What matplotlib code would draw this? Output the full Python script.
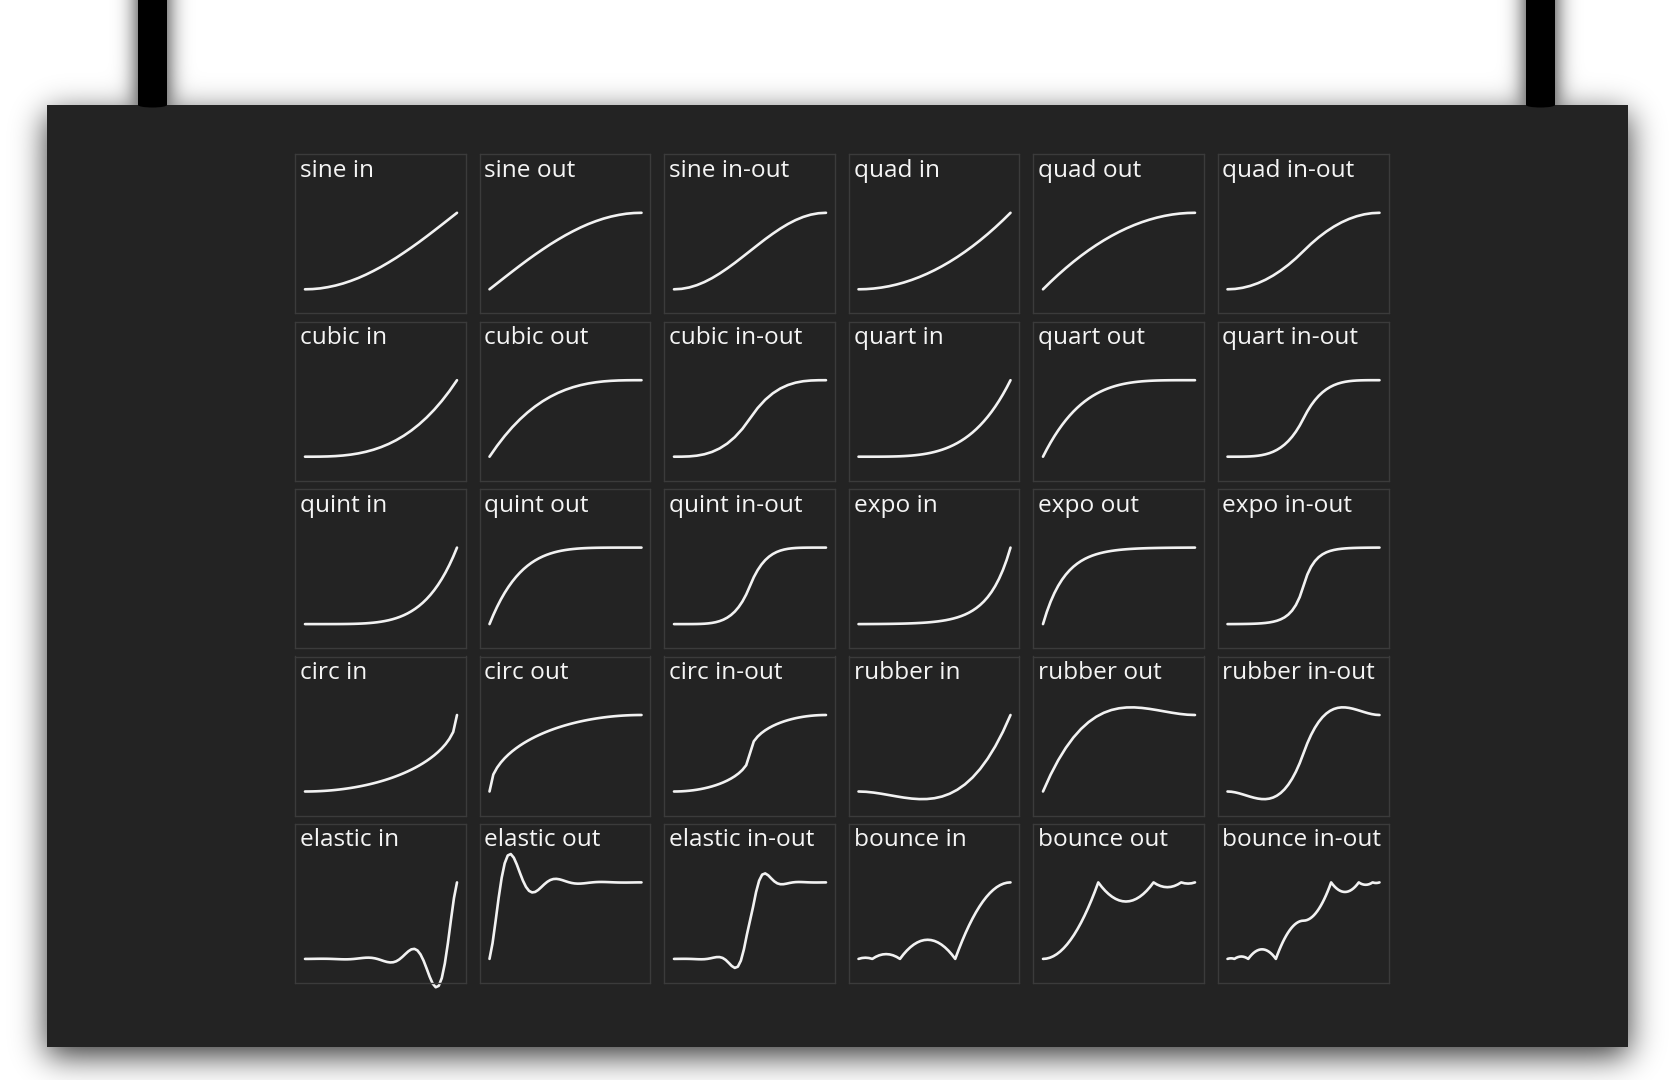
import math
import numpy as np
import matplotlib
matplotlib.use("Agg")
import matplotlib.pyplot as plt
from matplotlib.patches import Rectangle, Ellipse

plt.rcParams['font.family'] = ['Open Sans', 'DejaVu Sans']

# easing curves, t runs evenly from 0 to 1
sine_in = [0, 0.003, 0.012, 0.028, 0.049, 0.076, 0.109, 0.147, 0.191, 0.240, 0.293, 0.351, 0.412, 0.478, 0.546, 0.617, 0.691, 0.767, 0.844, 0.922, 1]
sine_out = [0, 0.078, 0.156, 0.233, 0.309, 0.383, 0.454, 0.522, 0.588, 0.649, 0.707, 0.760, 0.809, 0.853, 0.891, 0.924, 0.951, 0.972, 0.988, 0.997, 1]
sine_inout = [0, 0.006, 0.024, 0.054, 0.095, 0.146, 0.206, 0.273, 0.345, 0.422, 0.5, 0.578, 0.655, 0.727, 0.794, 0.854, 0.905, 0.946, 0.976, 0.994, 1]
quad_in = [0, 0.0025, 0.01, 0.0225, 0.04, 0.0625, 0.09, 0.1225, 0.16, 0.2025, 0.25, 0.3025, 0.36, 0.4225, 0.49, 0.5625, 0.64, 0.7225, 0.81, 0.9025, 1]
quad_out = [0, 0.0975, 0.19, 0.2775, 0.36, 0.4375, 0.51, 0.5775, 0.64, 0.6975, 0.75, 0.7975, 0.84, 0.8775, 0.91, 0.9375, 0.96, 0.9775, 0.99, 0.9975, 1]
quad_inout = [0, 0.005, 0.02, 0.045, 0.08, 0.125, 0.18, 0.245, 0.32, 0.405, 0.5, 0.595, 0.68, 0.755, 0.82, 0.875, 0.92, 0.955, 0.98, 0.995, 1]
cubic_in = [0, 0.0001, 0.001, 0.0034, 0.008, 0.0156, 0.027, 0.0429, 0.064, 0.0911, 0.125, 0.1664, 0.216, 0.2746, 0.343, 0.4219, 0.512, 0.6141, 0.729, 0.8574, 1]
cubic_out = [0, 0.1426, 0.271, 0.3859, 0.488, 0.5781, 0.657, 0.7254, 0.784, 0.8336, 0.875, 0.9089, 0.936, 0.9571, 0.973, 0.9844, 0.992, 0.9966, 0.999, 0.9999, 1]
cubic_inout = [0, 0.0005, 0.004, 0.0135, 0.032, 0.0625, 0.108, 0.1715, 0.256, 0.3645, 0.5, 0.6355, 0.744, 0.8285, 0.892, 0.9375, 0.968, 0.9865, 0.996, 0.9995, 1]
quart_in = [0, 0, 0, 0, 0.0001, 0.0002, 0.0005, 0.0009, 0.0016, 0.0026, 0.0039, 0.0057, 0.0081, 0.0112, 0.015, 0.0198, 0.0256, 0.0326, 0.041, 0.0509, 0.0625,
            0.076, 0.0915, 0.1093, 0.1296, 0.1526, 0.1785, 0.2076, 0.2401, 0.2763, 0.3164, 0.3608, 0.4096, 0.4633, 0.522, 0.5862, 0.6561, 0.7321, 0.8145, 0.9037, 1]
quart_out = [0, 0.0963, 0.1855, 0.2679, 0.3439, 0.4138, 0.478, 0.5367, 0.5904, 0.6392, 0.6836, 0.7237, 0.7599, 0.7924, 0.8215, 0.8474, 0.8704, 0.8907, 0.9085, 0.924, 0.9375,
             0.9491, 0.959, 0.9674, 0.9744, 0.9802, 0.985, 0.9888, 0.9919, 0.9943, 0.9961, 0.9974, 0.9984, 0.9991, 0.9995, 0.9998, 0.9999, 1, 1, 1, 1]
quart_inout = [0, 0, 0.0001, 0.0003, 0.0008, 0.002, 0.0041, 0.0075, 0.0128, 0.0205, 0.0313, 0.0458, 0.0648, 0.0893, 0.1201, 0.1582, 0.2048, 0.261, 0.3281, 0.4073, 0.5,
               0.5927, 0.672, 0.739, 0.7952, 0.8418, 0.88, 0.9107, 0.9352, 0.9542, 0.9688, 0.9795, 0.9872, 0.9925, 0.996, 0.998, 0.9992, 0.9998, 1, 1, 1]
quint_in = [0, 0, 0, 0, 0, 0, 0.0001, 0.0002, 0.0003, 0.0006, 0.001, 0.0016, 0.0024, 0.0036, 0.0053, 0.0074, 0.0102, 0.0139, 0.0185, 0.0242, 0.0313,
            0.0399, 0.0503, 0.0629, 0.0778, 0.0954, 0.116, 0.1401, 0.1681, 0.2003, 0.2373, 0.2796, 0.3277, 0.3822, 0.4437, 0.5129, 0.5905, 0.6772, 0.7738, 0.8811, 1]
quint_out = [0, 0.1189, 0.2262, 0.3228, 0.4095, 0.4871, 0.5563, 0.6178, 0.6723, 0.7204, 0.7627, 0.7997, 0.8319, 0.8599, 0.884, 0.9046, 0.9222, 0.9371, 0.9497, 0.9601, 0.9687,
             0.9758, 0.9815, 0.9861, 0.9898, 0.9926, 0.9947, 0.9964, 0.9976, 0.9984, 0.999, 0.9994, 0.9997, 0.9998, 0.9999, 1, 1, 1, 1, 1, 1]
quint_inout = [0, 0, 0, 0, 0.0002, 0.0005, 0.0012, 0.0026, 0.0051, 0.0092, 0.0156, 0.0252, 0.0389, 0.058, 0.084, 0.1187, 0.1638, 0.2219, 0.2952, 0.3869, 0.5,
               0.6131, 0.7048, 0.7781, 0.8362, 0.8813, 0.916, 0.942, 0.9611, 0.9748, 0.9844, 0.9908, 0.9949, 0.9974, 0.9988, 0.9995, 0.9998, 1, 1, 1, 1]
expo_in = [0, 0.0002, 0.0004, 0.0007, 0.001, 0.0013, 0.0018, 0.0023, 0.0029, 0.0037, 0.0046, 0.0056, 0.0068, 0.0083, 0.0101, 0.0122, 0.0147, 0.0176, 0.0211, 0.0253, 0.0303,
           0.0362, 0.0433, 0.0516, 0.0616, 0.0734, 0.0875, 0.1042, 0.1241, 0.1478, 0.176, 0.2095, 0.2493, 0.2966, 0.3529, 0.4199, 0.4995, 0.5942, 0.7068, 0.8407, 1]
expo_out = [0, 0.1593, 0.2932, 0.4058, 0.5005, 0.5801, 0.6471, 0.7034, 0.7507, 0.7905, 0.824, 0.8522, 0.8759, 0.8958, 0.9125, 0.9266, 0.9384, 0.9484, 0.9567, 0.9638, 0.9697,
            0.9747, 0.9789, 0.9824, 0.9853, 0.9878, 0.9899, 0.9917, 0.9932, 0.9944, 0.9954, 0.9963, 0.9971, 0.9977, 0.9982, 0.9987, 0.999, 0.9993, 0.9996, 0.9998, 1]
expo_inout = [0, 0.0002, 0.0005, 0.0009, 0.0015, 0.0023, 0.0034, 0.005, 0.0073, 0.0106, 0.0152, 0.0216, 0.0308, 0.0437, 0.0621, 0.088, 0.1246, 0.1765, 0.2498, 0.3534, 0.5,
              0.6466, 0.7502, 0.8235, 0.8754, 0.912, 0.9379, 0.9563, 0.9692, 0.9784, 0.9848, 0.9894, 0.9927, 0.995, 0.9966, 0.9977, 0.9985, 0.9991, 0.9995, 0.9998, 1]
circ_in = [0, 0.0003, 0.0013, 0.0028, 0.005, 0.0078, 0.0113, 0.0154, 0.0202, 0.0256, 0.0318, 0.0386, 0.0461, 0.0543, 0.0633, 0.073, 0.0835, 0.0948, 0.107, 0.12, 0.134,
           0.1489, 0.1648, 0.1818, 0.2, 0.2194, 0.2401, 0.2622, 0.2859, 0.3113, 0.3386, 0.368, 0.4, 0.4349, 0.4732, 0.5159, 0.5641, 0.62, 0.6878, 0.7778, 1]
circ_out = [0, 0.2222, 0.3122, 0.38, 0.4359, 0.4841, 0.5268, 0.5651, 0.6, 0.632, 0.6614, 0.6887, 0.7141, 0.7378, 0.7599, 0.7806, 0.8, 0.8182, 0.8352, 0.8511, 0.866,
            0.88, 0.893, 0.9052, 0.9165, 0.927, 0.9367, 0.9457, 0.9539, 0.9614, 0.9682, 0.9744, 0.9798, 0.9846, 0.9887, 0.9922, 0.995, 0.9972, 0.9987, 0.9997, 1]
circ_inout = [0, 0.0006, 0.0025, 0.0057, 0.0101, 0.0159, 0.023, 0.0316, 0.0417, 0.0535, 0.067, 0.0824, 0.1, 0.12, 0.1429, 0.1693, 0.2, 0.2366, 0.2821, 0.3439, 0.5,
              0.6561, 0.7179, 0.7634, 0.8, 0.8307, 0.8571, 0.88, 0.9, 0.9176, 0.933, 0.9465, 0.9583, 0.9684, 0.977, 0.9841, 0.9899, 0.9943, 0.9975, 0.9994, 1]
rubber_in = [0, -0.0039, -0.0143, -0.0292, -0.0465, -0.0641, -0.0802, -0.0926, -0.0994, -0.0984, -0.0877, -0.0653, -0.029, 0.023, 0.0929, 0.1826, 0.2942, 0.4297, 0.5912, 0.7806, 1]
rubber_out = [0, 0.2194, 0.4088, 0.5703, 0.7058, 0.8174, 0.9071, 0.977, 1.029, 1.0653, 1.0877, 1.0984, 1.0994, 1.0926, 1.0802, 1.0641, 1.0465, 1.0292, 1.0143, 1.0039, 1]
rubber_inout = [0, -0.003, -0.0112, -0.0231, -0.0375, -0.053, -0.0682, -0.0819, -0.0926, -0.0989, -0.0997, -0.0934, -0.0788, -0.0545, -0.0192, 0.0285, 0.0899, 0.1665, 0.2594, 0.3701, 0.5,
                0.6299, 0.7406, 0.8335, 0.9101, 0.9715, 1.0192, 1.0545, 1.0788, 1.0934, 1.0997, 1.0989, 1.0926, 1.0819, 1.0682, 1.053, 1.0375, 1.0231, 1.0112, 1.003, 1]
elastic_in = [0, -0.0001, 0.0004, 0.001, 0.0016, 0.002, 0.002, 0.0017, 0.0009, -0.0004, -0.002, -0.0036, -0.005, -0.0058, -0.0055, -0.0039, -0.0009, 0.0032, 0.0079, 0.0124,
              0.0156, 0.0164, 0.0138, 0.0073, -0.0028, -0.0156, -0.029, -0.0403, -0.0463, -0.044, -0.0313, -0.0075, 0.0255, 0.0634, 0.0994, 0.125, 0.1312, 0.1104, 0.0585, -0.0227,
              -0.125, -0.2323, -0.3227, -0.3706, -0.3521, -0.25, -0.06, 0.2039, 0.5071, 0.7953, 1]
elastic_out = [0, 0.2047, 0.4929, 0.7961, 1.06, 1.25, 1.3521, 1.3706, 1.3227, 1.2323, 1.125, 1.0227, 0.9415, 0.8896, 0.8688, 0.875, 0.9006, 0.9366, 0.9745, 1.0075,
               1.0313, 1.044, 1.0463, 1.0403, 1.029, 1.0156, 1.0028, 0.9927, 0.9862, 0.9836, 0.9844, 0.9876, 0.9921, 0.9968, 1.0009, 1.0039, 1.0055, 1.0058, 1.005, 1.0036,
               1.002, 1.0004, 0.9991, 0.9983, 0.998, 0.998, 0.9984, 0.999, 0.9996, 1.0001, 1]
elastic_inout = [0, 0.0004, 0.0008, 0.0011, 0.001, 0.0003, -0.001, -0.0028, -0.0045, -0.0052, -0.0039, 0.0004, 0.0076, 0.0164, 0.0235, 0.0239, 0.0127, -0.0132, -0.0516, -0.0927,
                 -0.1175, -0.1015, -0.0227, 0.1259, 0.3214, 0.5, 0.6786, 0.8741, 1.0227, 1.1015, 1.1175, 1.0927, 1.0516, 1.0132, 0.9873, 0.9761, 0.9765, 0.9836, 0.9924, 0.9996,
                 1.0039, 1.0052, 1.0045, 1.0028, 1.001, 0.9997, 0.999, 0.9989, 0.9992, 0.9996, 1]
bounce_in = [0, 0.0117, 0.0156, 0.0117, 0, 0.0273, 0.0469, 0.0586, 0.0625, 0.0586, 0.0469, 0.0273, 0, 0.0586, 0.1094, 0.1523, 0.1875, 0.2148, 0.2344, 0.2461, 0.25,
             0.2461, 0.2344, 0.2148, 0.1875, 0.1523, 0.1094, 0.0586, 0, 0.1211, 0.2344, 0.3398, 0.4375, 0.5273, 0.6094, 0.6836, 0.75, 0.8086, 0.8594, 0.9023, 0.9375,
             0.9648, 0.9844, 0.9961, 1]
bounce_out = [0, 0.0039, 0.0156, 0.0352, 0.0625, 0.0977, 0.1406, 0.1914, 0.25, 0.3164, 0.3906, 0.4727, 0.5625, 0.6602, 0.7656, 0.8789, 1, 0.9414, 0.8906, 0.8477, 0.8125,
              0.7852, 0.7656, 0.7539, 0.75, 0.7539, 0.7656, 0.7852, 0.8125, 0.8477, 0.8906, 0.9414, 1, 0.9727, 0.9531, 0.9414, 0.9375, 0.9414, 0.9531, 0.9727, 1,
              0.9883, 0.9844, 0.9883, 1]
bounce_inout = [0, 0.0059, 0.0078, 0.0059, 0, 0.0137, 0.0234, 0.0293, 0.0313, 0.0293, 0.0234, 0.0137, 0, 0.0293, 0.0547, 0.0762, 0.0938, 0.1074, 0.1172, 0.123, 0.125,
                0.123, 0.1172, 0.1074, 0.0938, 0.0762, 0.0547, 0.0293, 0, 0.0605, 0.1172, 0.1699, 0.2188, 0.2637, 0.3047, 0.3418, 0.375, 0.4043, 0.4297, 0.4512, 0.4688,
                0.4824, 0.4922, 0.498, 0.5, 0.502, 0.5078, 0.5176, 0.5313, 0.5488, 0.5703, 0.5957, 0.625, 0.6582, 0.6953, 0.7363, 0.7813, 0.8301, 0.8828, 0.9395, 1,
                0.9707, 0.9453, 0.9238, 0.9063, 0.8926, 0.8828, 0.877, 0.875, 0.877, 0.8828, 0.8926, 0.9063, 0.9238, 0.9453, 0.9707, 1, 0.9863, 0.9766, 0.9707, 0.9688,
                0.9707, 0.9766, 0.9863, 1, 0.9941, 0.9922, 0.9941, 1]

names = ['sine in', 'sine out', 'sine in-out', 'quad in', 'quad out', 'quad in-out',
         'cubic in', 'cubic out', 'cubic in-out', 'quart in', 'quart out', 'quart in-out',
         'quint in', 'quint out', 'quint in-out', 'expo in', 'expo out', 'expo in-out',
         'circ in', 'circ out', 'circ in-out', 'rubber in', 'rubber out', 'rubber in-out',
         'elastic in', 'elastic out', 'elastic in-out', 'bounce in', 'bounce out', 'bounce in-out']
curves = [sine_in, sine_out, sine_inout, quad_in, quad_out, quad_inout,
          cubic_in, cubic_out, cubic_inout, quart_in, quart_out, quart_inout,
          quint_in, quint_out, quint_inout, expo_in, expo_out, expo_inout,
          circ_in, circ_out, circ_inout, rubber_in, rubber_out, rubber_inout,
          elastic_in, elastic_out, elastic_inout, bounce_in, bounce_out, bounce_inout]

W, H = 1680, 1080
PANEL = '#232323'
fig = plt.figure(figsize=(W / 100, H / 100), dpi=100)
fig.patch.set_facecolor('white')

# background layer in pixel coordinates
bg = fig.add_axes([0, 0, 1, 1])
bg.set_xlim(0, W)
bg.set_ylim(H, 0)
bg.axis('off')

erf = np.vectorize(math.erf)


def soft(a, b, n, s):
    u = np.arange(n) + 0.5
    return 0.5 * (erf((u - a) / (s * 1.4142)) - erf((u - b) / (s * 1.4142)))


a_panel = 0.8 * np.outer(soft(105 + 9, 1047 + 9, H, 16), soft(47, 1628, W, 16))
a_bar1 = 0.9 * np.outer(soft(-60, 110, H, 11), soft(138, 167, W, 11))
a_bar2 = 0.9 * np.outer(soft(-60, 110, H, 11), soft(1526, 1555, W, 11))
alpha = 1 - (1 - a_panel) * (1 - a_bar1) * (1 - a_bar2)
shadow = np.zeros((H, W, 4))
shadow[..., 3] = alpha
bg.imshow(shadow, extent=(0, W, H, 0), aspect='auto', interpolation='bilinear', zorder=0)

bg.add_patch(Rectangle((47, 105), 1581, 942, facecolor=PANEL, edgecolor='none', zorder=1))
for bx in (138, 1526):
    bg.add_patch(Rectangle((bx, 0), 29, 105, facecolor='black', edgecolor='none', zorder=2))
    bg.add_patch(Ellipse((bx + 14.5, 105), 29, 5, facecolor='black', edgecolor='none', zorder=2))

# grid of small panels
cw, ch = 171, 159
x0, y0 = 295, 154.3
dx, dy = 184.5, 167.4
for i, (name, vals) in enumerate(zip(names, curves)):
    r, c = divmod(i, 6)
    left = x0 + c * dx
    top = y0 + r * dy
    ax = fig.add_axes([left / W, 1 - (top + ch) / H, cw / W, ch / H])
    ax.set_facecolor(PANEL)
    for sp in ax.spines.values():
        sp.set_color('#3b3b3b')
        sp.set_linewidth(1.0)
    ax.set_xticks([])
    ax.set_yticks([])
    ax.set_xlim(-10 / 152, 161 / 152)
    ax.set_ylim(-24 / 76.5, 1 + 58.5 / 76.5)
    t = np.linspace(0, 1, len(vals))
    ax.plot(t, vals, color='#f2f2f2', lw=1.9, solid_capstyle='round', clip_on=False)
    ax.text(5 / cw, 1 - 22.5 / ch, name, transform=ax.transAxes, fontsize=17.6,
            color='#f5f5f5', va='baseline', ha='left')

fig.savefig('out.png', dpi=100, facecolor='white')
